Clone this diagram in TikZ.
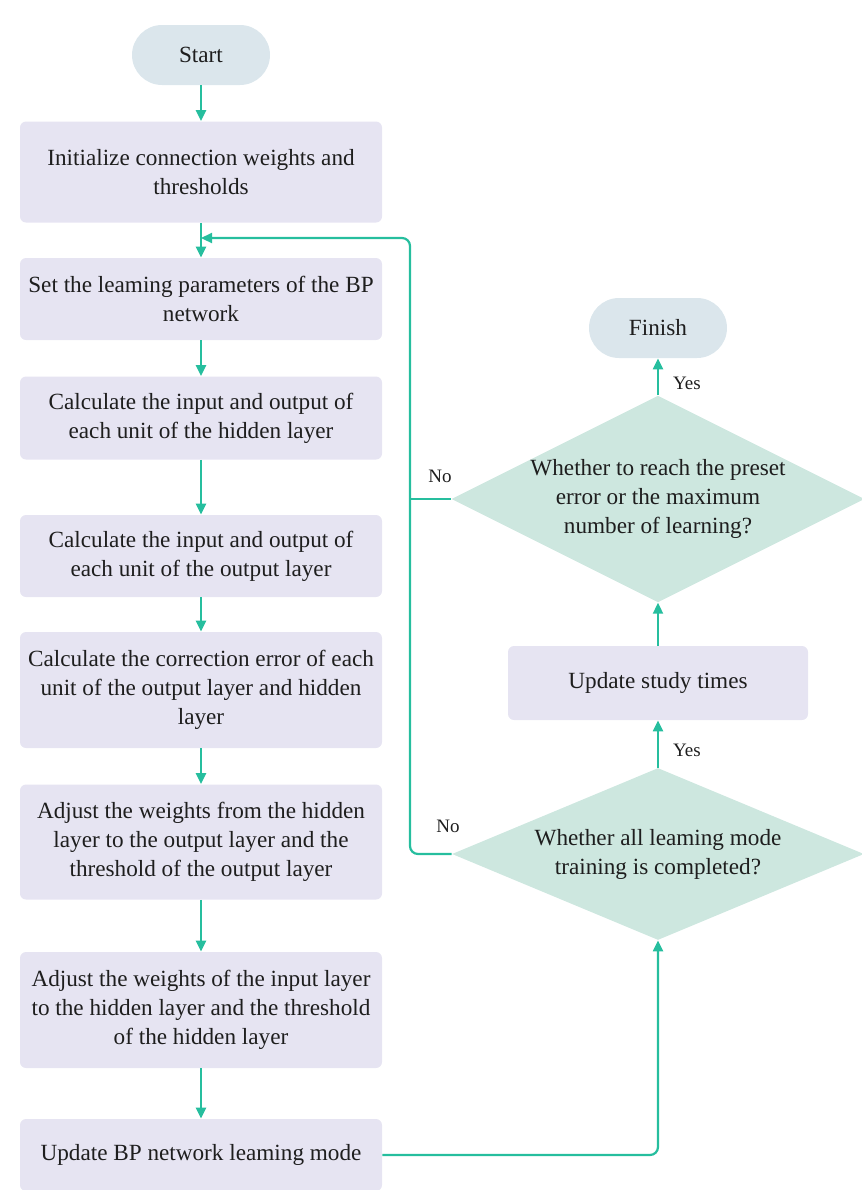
\documentclass[tikz,border=0pt]{standalone}
\usepackage{fontspec}
\setmainfont{Liberation Serif}
\usetikzlibrary{shapes.geometric,arrows.meta}
\definecolor{boxc}{RGB}{230,228,242}
\definecolor{pillc}{RGB}{219,230,236}
\definecolor{dmdc}{RGB}{205,231,223}
\definecolor{linec}{RGB}{38,190,158}
\definecolor{txtc}{RGB}{30,30,30}

\begin{document}
\begin{tikzpicture}[x=0.5pt,y=-0.5pt,
  every node/.style={font=\fontsize{11.6}{14.5}\selectfont, align=center, text=txtc},
  pill/.style={fill=pillc, rounded corners=15pt, minimum width=69pt, minimum height=30pt},
  box/.style={fill=boxc, rounded corners=3pt, minimum width=181pt, inner sep=0pt},
  dmd/.style={diamond, fill=dmdc, inner sep=0pt, minimum width=206pt},
  arr/.style={draw=linec, line width=1.1pt, -{Triangle[length=5.5pt,width=5pt]}},
  lnk/.style={draw=linec, line width=1.1pt, rounded corners=4pt},
  lbl/.style={font=\fontsize{9.5}{11}\selectfont}
]
\useasboundingbox (0,0) rectangle (862,1190);

% left column
\node[pill] (S) at (201,55) {Start};
\node[box, minimum height=50.5pt] (A) at (201,172) {Initialize connection weights and\\thresholds};
\node[box, minimum height=41pt] (B) at (201,299) {Set the leaming parameters of the BP\\network};
\node[box, minimum height=41.5pt] (C) at (201,418) {Calculate the input and output of\\each unit of the hidden layer};
\node[box, minimum height=41pt] (D) at (201,556) {Calculate the input and output of\\each unit of the output layer};
\node[box, minimum height=58pt] (E) at (201,690) {Calculate the correction error of each\\unit of the output layer and hidden\\layer};
\node[box, minimum height=57.5pt] (F) at (201,842) {Adjust the weights from the hidden\\layer to the output layer and the\\threshold of the output layer};
\node[box, minimum height=58pt] (G) at (201,1010) {Adjust the weights of the input layer\\to the hidden layer and the threshold\\of the hidden layer};
\node[box, minimum height=36pt] (H) at (201,1155) {Update BP network leaming mode};

% right column
\node[pill] (T) at (658,328) {Finish};
\node[dmd, minimum height=102.5pt, aspect=2] (P) at (658,499) {Whether to reach the preset\\error or the maximum\\number of learning?};
\node[box, minimum width=150pt, minimum height=37pt] (U) at (658,683) {Update study times};
\node[dmd, minimum height=86pt, aspect=2.4] (Q) at (658,854) {Whether all leaming mode\\training is completed?};

\coordinate (J) at (201,238);
\coordinate (K) at (410,238);
\coordinate (L) at (410,499);

\draw[arr] (S) -- (A);
\draw[lnk] (A) -- (J);
\draw[arr] (J) -- (B);
\draw[arr] (B) -- (C);
\draw[arr] (C) -- (D);
\draw[arr] (D) -- (E);
\draw[arr] (E) -- (F);
\draw[arr] (F) -- (G);
\draw[arr] (G) -- (H);

\draw[arr, rounded corners=4pt] (H.east) -| (Q.south);
\draw[arr] (Q.north) -- (U);
\draw[arr] (U) -- (P.south);
\draw[arr] (P.north) -- (T);
\draw[arr, rounded corners=4pt] (Q.west) -| (K) -- (J);
\draw[lnk] (P.west) -- (L);

\node[lbl] (Y1) at (687,383) {Yes};
\node[lbl] (Y2) at (687,750) {Yes};
\node[lbl] (N1) at (440,476) {No};
\node[lbl] (N2) at (448,826) {No};
\end{tikzpicture}
\end{document}
